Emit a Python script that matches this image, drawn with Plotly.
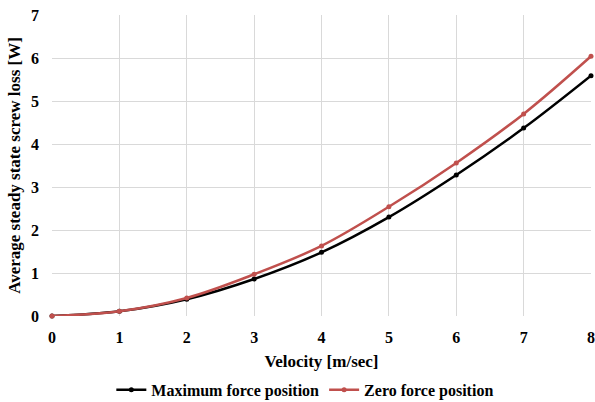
import plotly.graph_objects as go

velocity = [0, 1, 2, 3, 4, 5, 6, 7, 8]
max_force_loss = [0.0, 0.11, 0.39, 0.86, 1.48, 2.30, 3.28, 4.37, 5.59]
zero_force_loss = [0.0, 0.11, 0.42, 0.97, 1.63, 2.54, 3.56, 4.70, 6.04]

font_family = "Liberation Serif"

fig = go.Figure()
fig.add_trace(go.Scatter(
    x=velocity, y=max_force_loss, name="Maximum force position",
    mode="lines+markers", line=dict(color="#000000", width=2.5, shape="spline"),
    marker=dict(size=5, color="#000000"), cliponaxis=False,
))
fig.add_trace(go.Scatter(
    x=velocity, y=zero_force_loss, name="Zero force position",
    mode="lines+markers", line=dict(color="#C0504D", width=2.5, shape="spline"),
    marker=dict(size=5, color="#C0504D"), cliponaxis=False,
))

fig.update_layout(
    width=595, height=402,
    margin=dict(l=52, r=4, t=15, b=86, autoexpand=False),
    paper_bgcolor="white", plot_bgcolor="white",
    font=dict(family=font_family, size=16, color="#000000"),
    showlegend=True,
    legend=dict(orientation="h", x=0.47, xanchor="center", y=-0.245, yanchor="middle",
                font=dict(family=font_family, size=16, weight="bold"),
                itemwidth=30, traceorder="normal"),
)
fig.update_xaxes(
    range=[0, 8], dtick=1, showgrid=True, gridcolor="#D9D9D9", gridwidth=1,
    zeroline=False, showline=False, ticklabeloverflow="allow",
    tickfont=dict(family=font_family, size=16, weight="bold"), ticks="",
    ticklabelstandoff=10,
    title=dict(text="Velocity [m/sec]", font=dict(family=font_family, size=17, weight="bold"), standoff=10),
)
fig.update_yaxes(
    range=[0, 7], dtick=1, showgrid=True, gridcolor="#D9D9D9", gridwidth=1,
    zeroline=False, showline=False, ticklabeloverflow="allow",
    tickfont=dict(family=font_family, size=16, weight="bold"), ticks="",
    ticklabelstandoff=12,
    title=dict(text="Average steady state screw loss [W]", font=dict(family=font_family, size=17, weight="bold"), standoff=6),
)

fig.write_html("out.html")
